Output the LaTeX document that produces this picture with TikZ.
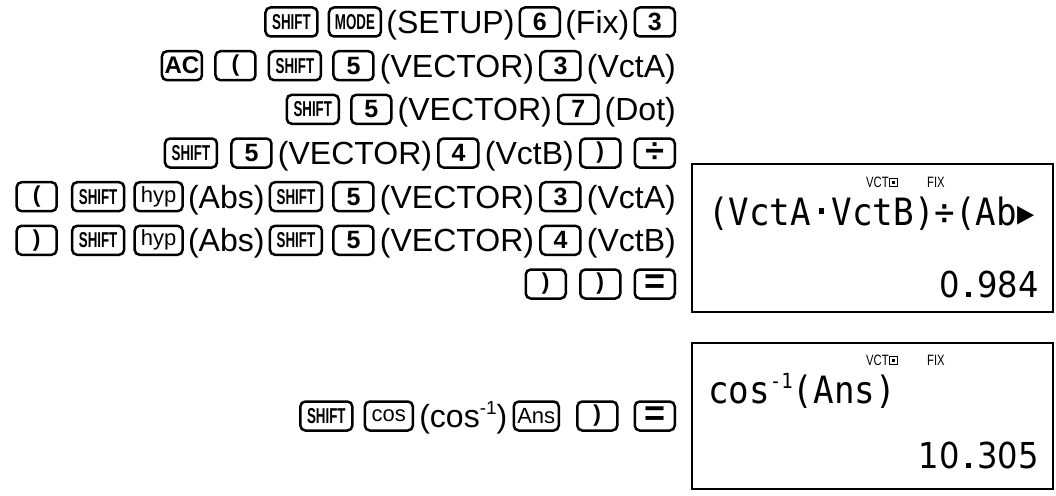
\documentclass[tikz,border=0pt]{standalone}
\usepackage{fontspec}
\usepackage{graphicx}
\setmainfont{Liberation Sans}
\newfontfamily\lcdfont{DejaVu Sans Mono}
\newfontfamily\djs{DejaVu Sans}
\usetikzlibrary{positioning}
\newcommand\mainsz{\fontsize{32}{32}\selectfont}
\newcommand\digsz{\fontsize{25}{25}\selectfont\bfseries}
\newcommand\parsz{\fontsize{23}{23}\selectfont\bfseries}
\newcommand\shsz{\fontsize{21.5}{21.5}\selectfont\bfseries}
\newcommand\smsz{\fontsize{22}{22}\selectfont}
\newcommand\cond[1]{\scalebox{0.62}[1]{#1}}
\newcommand\lcddot{\makebox[0.602em]{\rule[0.28em]{0.17em}{0.17em}}}
\newcommand\lcdnum[1]{{\djs\fontsize{35}{35}\selectfont\scalebox{0.92}[1.02]{#1}}}
\newcommand\lcdpt{\makebox[0.55em]{\rule{0.15em}{0.15em}}}
\newcommand\indsq{\raisebox{0.5pt}{\tikz[baseline]{\draw[line width=1pt] (0,0) rectangle (8pt,8pt); \fill (2.5pt,2.5pt) rectangle (5.5pt,5.5pt);}}}
\tikzset{
  kbase/.style={draw, line width=2.5pt, rounded corners=5pt, minimum height=29pt, inner sep=0pt},
  dkey/.style={kbase, minimum width=40pt, font=\digsz},
  pkey/.style={kbase, minimum width=40pt, font=\parsz},
  wkey/.style={kbase, minimum width=52pt, font=\shsz},
  skey/.style={kbase, minimum width=48pt, font=\smsz},
  txt/.style={inner sep=0pt, font=\mainsz, text height=23pt, text depth=0pt},
  lcdbox/.style={draw, line width=2.4pt, inner sep=0pt},
  lcd/.style={inner sep=0pt, font=\lcdfont\fontsize{34.2}{34.2}\selectfont},
  ind/.style={inner sep=0pt, font=\fontsize{15}{15}\selectfont},
}
\begin{document}
\begin{tikzpicture}[x=1pt, y=-1pt]
\useasboundingbox (0,0) rectangle (1056,495);
% Row 1
\node[dkey, anchor=east] (a1) at (676,22) {3};
\node[txt, left=4pt of a1] (a2) {(Fix)};
\node[dkey, left=4pt of a2] (a3) {6};
\node[txt, left=4pt of a3] (a4) {(SETUP)};
\node[wkey, left=4pt of a4] (a5) {\cond{MODE}};
\node[wkey, left=9pt of a5] (a6) {\cond{SHIFT}};
% Row 2
\node[txt, anchor=east] (b1) at (676,65.7) {(VctA)};
\node[dkey, left=5pt of b1] (b2) {3};
\node[txt, left=5pt of b2] (b3) {(VECTOR)};
\node[dkey, left=5pt of b3] (b4) {5};
\node[wkey, left=10pt of b4] (b5) {\cond{SHIFT}};
\node[pkey, left=11pt of b5] (b6) {(};
\node[dkey, left=11pt of b6, minimum width=40pt, font=\fontsize{24}{24}\selectfont\bfseries] (b7) {AC};
% Row 3
\node[txt, anchor=east] (c1) at (676,109.3) {(Dot)};
\node[dkey, left=5pt of c1] (c2) {7};
\node[txt, left=5pt of c2] (c3) {(VECTOR)};
\node[dkey, left=5pt of c3] (c4) {5};
\node[wkey, left=10pt of c4] (c5) {\cond{SHIFT}};
% Row 4
\node[dkey, anchor=east, font=\fontsize{34}{34}\selectfont\bfseries] (e1) at (676,153) {÷};
\node[pkey, left=12pt of e1] (e2) {)};
\node[txt, left=5pt of e2] (e3) {(VctB)};
\node[dkey, left=5pt of e3] (e4) {4};
\node[txt, left=5pt of e4] (e5) {(VECTOR)};
\node[dkey, left=5pt of e5] (e6) {5};
\node[wkey, left=12pt of e6] (e7) {\cond{SHIFT}};
% Row 5
\node[txt, anchor=east] (f1) at (676,196.7) {(VctA)};
\node[dkey, left=5pt of f1] (f2) {3};
\node[txt, left=5pt of f2] (f3) {(VECTOR)};
\node[dkey, left=5pt of f3] (f4) {5};
\node[wkey, left=9pt of f4] (f5) {\cond{SHIFT}};
\node[txt, left=4pt of f5] (f6) {(Abs)};
\node[skey, left=4pt of f6] (f7) {hyp};
\node[wkey, left=8pt of f7] (f8) {\cond{SHIFT}};
\node[pkey, left=13pt of f8] (f9) {(};
% Row 6
\node[txt, anchor=east] (g1) at (676,240.3) {(VctB)};
\node[dkey, left=5pt of g1] (g2) {4};
\node[txt, left=5pt of g2] (g3) {(VECTOR)};
\node[dkey, left=5pt of g3] (g4) {5};
\node[wkey, left=9pt of g4] (g5) {\cond{SHIFT}};
\node[txt, left=4pt of g5] (g6) {(Abs)};
\node[skey, left=4pt of g6] (g7) {hyp};
\node[wkey, left=8pt of g7] (g8) {\cond{SHIFT}};
\node[pkey, left=13pt of g8] (g9) {)};
% Row 7
\node[dkey, anchor=east, font=\fontsize{36}{36}\selectfont\bfseries] (h1) at (676,284) {=};
\node[pkey, left=12pt of h1] (h2) {)};
\node[pkey, left=12pt of h2] (h3) {)};
% Row 8
\node[dkey, anchor=east, font=\fontsize{36}{36}\selectfont\bfseries] (k1) at (676,416) {=};
\node[pkey, left=15pt of k1] (k2) {)};
\node[skey, left=16pt of k2, minimum width=45pt] (k3) {Ans};
\node[txt, left=5pt of k3] (k4) {(cos\raisebox{0.42em}{\fontsize{19}{19}\selectfont -1})};
\node[skey, left=5pt of k4] (k5) {cos};
\node[wkey, left=10pt of k5] (k6) {\cond{SHIFT}};
% Display 1
\node[lcdbox, anchor=north west, minimum width=361pt, minimum height=148pt] (d1) at (691,163) {};
\node[ind, anchor=west] (d1v) at (866,182) {\scalebox{0.75}[1]{VCT}\indsq};
\node[ind, anchor=west] (d1f) at (927,182) {\scalebox{0.75}[1]{FIX}};
\node[lcd, anchor=base west] (d1l) at (708,225) {\scalebox{1}[1.1]{(VctA\lcddot VctB)÷(Ab{\djs ▸}}};
\node[lcd, anchor=base east] (d1r) at (1039,297) {\lcdnum{0\lcdpt 984}};
% Display 2
\node[lcdbox, anchor=north west, minimum width=361pt, minimum height=146pt] (d2) at (691,342) {};
\node[ind, anchor=west] (d2v) at (866,360) {\scalebox{0.75}[1]{VCT}\indsq};
\node[ind, anchor=west] (d2f) at (927,360) {\scalebox{0.75}[1]{FIX}};
\node[lcd, anchor=base west] (d2l) at (708,403) {\scalebox{1}[1.1]{cos\raisebox{0.38em}{\fontsize{19}{19}\selectfont -1}(Ans)}};
\node[lcd, anchor=base east] (d2r) at (1039,468) {\lcdnum{10\lcdpt 305}};
\end{tikzpicture}
\end{document}
